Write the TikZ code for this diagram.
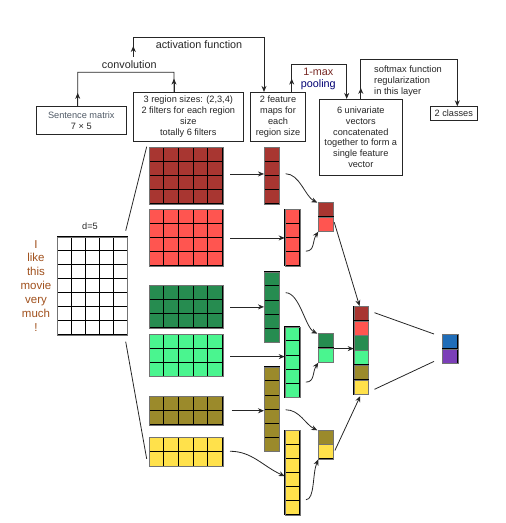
\documentclass[tikz,border=0pt]{standalone}
\usepackage{fontspec}
\setmainfont{Liberation Sans}
\usetikzlibrary{arrows.meta,calc}
\definecolor{dred}{HTML}{A83631}
\definecolor{lred}{HTML}{FF5550}
\definecolor{dgreen}{HTML}{268C50}
\definecolor{lgreen}{HTML}{4AF58F}
\definecolor{olive}{HTML}{9B8A2B}
\definecolor{yel}{HTML}{FFE14B}
\definecolor{oblue}{HTML}{1F6DB8}
\definecolor{opurple}{HTML}{7B3FB8}
\definecolor{wordc}{HTML}{A0501C}
\definecolor{smc}{HTML}{505A66}
\newcommand\cellblock[8]{%
  \foreach \ci in {1,...,#4}{\foreach \cj in {1,...,#5}{%
    \filldraw[fill=#8,draw=black,line width=0.7pt] ({#2+(\ci-1)*#6},{#3+(\cj-1)*#7}) rectangle ++(#6,#7);
  }}%
  \node[draw=black!55,line width=0.9pt,inner sep=0pt,minimum width={#4*#6pt},minimum height={#5*#7pt},anchor=north west] (#1) at (#2,#3) {};
}
\tikzset{
  box/.style={draw=black!85,line width=0.9pt,fill=white,inner sep=1pt,align=center,font=\fontsize{9.2}{10.9}\selectfont,text=black!85},
  lbl/.style={font=\fontsize{10.8}{12}\selectfont,text=black!85,inner sep=0pt},
  arr/.style={-{Stealth[length=6pt,width=5pt]},line width=0.8pt,draw=black!85},
  ln/.style={line width=0.8pt,draw=black!85},
}
\begin{document}
\begin{tikzpicture}[x=1pt,y=-1pt]
\useasboundingbox (0,0) rectangle (506,523);

% top boxes
\node[box,minimum width=89.3pt,minimum height=27.6pt] (sm) at (81.3,120.5) {\textcolor{smc}{Sentence matrix}\\7 × 5};
\node[box,minimum width=110pt,minimum height=48.7pt] (rs) at (188.3,116.7) {3 region sizes: (2,3,4)\\2 filters for each region\\size\\totally 6 filters};
\node[box,minimum width=54.6pt,minimum height=48.7pt] (fm) at (278,116.7) {2 feature\\maps for\\each\\region size};
\node[box,minimum width=83pt,minimum height=75.7pt] (uv) at (360.8,137.2) {6 univariate\\vectors\\concatenated\\together to form a\\single feature\\vector};
\node[box,minimum width=47.7pt,minimum height=13.3pt,inner sep=0pt] (cls) at (453.8,113.4) {2 classes};

% labels
\node[lbl] (lconv) at (129.3,64.3) {convolution};
\node[lbl] (lact) at (199,44.3) {activation function};
\node[lbl,text=dred!70!black] (lmax) at (318.3,72.3) {1-max};
\node[lbl,text=blue!45!black] (lpool) at (318.3,84.3) {pooling};
\node[inner sep=0pt,align=left,anchor=west,font=\fontsize{9.3}{10.8}\selectfont,text=black!85] (lsoft) at (374,80.8) {softmax function\\regularization\\in this layer};

% convolution bracket
\draw[ln] ($(sm.north)+(-3.6,0)$) -- ++(0,-34) -- ($(rs.north)+(-14.3,-19.6)$) -- ($(rs.north)+(-14.3,0)$);
\draw[arr] ($(sm.north)+(-3.6,0)$) -- ++(0,-13.4);
\draw[arr] ($(rs.north)+(-14.3,0)$) -- ++(0,-13.3);
% activation bracket
\coordinate (actS) at (133.3,56.7);
\draw[arr] (actS) -- ++(0,-10.7);
\draw[arr] (actS) -- ++(0,-19) -| ($(fm.north)+(-14,0)$);
% pooling bracket
\draw[arr] ($(fm.north)+(13.7,0)$) -- ++(0,-13.3);
\draw[arr] ($(fm.north)+(13.7,0)$) -- ++(0,-27.3) -| ($(uv.north)+(-14.1,0)$);
% softmax bracket
\draw[arr] (uv.north) -- ++(0,-11);
\draw[arr] (uv.north) -- ++(0,-40) -| ($(cls.north)+(3.5,0)$);

% sentence matrix
\cellblock{mat}{57.3}{236.7}{5}{7}{14}{14}{white}
\node[font=\fontsize{9.2}{11}\selectfont,text=black!85,inner sep=0pt] (dl) at (90,226) {d=5};
\node[font=\fontsize{11.5}{13.9}\selectfont,text=wordc,align=center,inner sep=0pt] (words) at (36,285.8) {I\\like\\this\\movie\\very\\much\\!};

% filters
\cellblock{f1}{149}{147.3}{5}{4}{14.7}{14.1}{dred}
\cellblock{f2}{149}{209.3}{5}{4}{14.7}{14.1}{lred}
\cellblock{f3}{149}{285.3}{5}{3}{14.7}{14.1}{dgreen}
\cellblock{f4}{149}{334}{5}{3}{14.7}{14.1}{lgreen}
\cellblock{f5}{149}{396}{5}{2}{14.7}{14.3}{olive}
\cellblock{f6}{149}{437.3}{5}{2}{14.7}{14.3}{yel}

\coordinate (m1) at (125.7,230.7);
\coordinate (m2) at (125.7,341.7);
\draw[ln] (m1) -- ($(f1.north west)+(-2.3,-0.6)$);
\draw[ln] (m2) -- ($(f6.south west)+(-2.3,-7.9)$);

% feature map columns
\cellblock{c1}{264}{147.3}{1}{4}{15}{14.1}{dred}
\cellblock{c2}{284.7}{209.3}{1}{4}{15}{14.1}{lred}
\cellblock{c3}{264}{271.7}{1}{5}{15}{14.1}{dgreen}
\cellblock{c4}{284.7}{326.7}{1}{5}{15}{14.1}{lgreen}
\cellblock{c5}{264}{366.7}{1}{6}{15}{14.1}{olive}
\cellblock{c6}{284.7}{430}{1}{6}{15}{14.1}{yel}

% filter -> feature map
\coordinate (s1) at ($(f1.east)+(6.6,-2)$);
\coordinate (s4) at ($(f4.east)+(6.6,1)$);
\draw[arr] (s1) -- (s1 -| c1.west);
\draw[arr] ($(f2.east)+(6.6,0)$) -- (f2.east -| c2.west);
\draw[arr] ($(f3.east)+(6.6,0)$) -- (f3.east -| c3.west);
\draw[arr] (s4) -- (s4 -| c4.west);
\draw[arr] ($(f5.east)+(8.3,0)$) -- (f5.east -| c5.west);
\draw[arr] ($(f6.east)+(6.6,-0.8)$) .. controls +(22,0) and +(-22,-10) .. ($(c6.west)+(0,3.4)$);

% pooled pairs
\cellblock{p1a}{318.3}{202.3}{1}{1}{14.7}{14.4}{dred}
\cellblock{p1b}{318.3}{216.7}{1}{1}{14.7}{14.4}{lred}
\cellblock{p2a}{318.3}{333.3}{1}{1}{14.7}{14.4}{dgreen}
\cellblock{p2b}{318.3}{347.7}{1}{1}{14.7}{14.4}{lgreen}
\cellblock{p3a}{318.3}{430}{1}{1}{14.7}{14.4}{olive}
\cellblock{p3b}{318.3}{444.4}{1}{1}{14.7}{14.4}{yel}

% feature map -> pooled
\draw[arr] ($(c1.east)+(5.7,-2.2)$) .. controls +(14,0) and +(-12,-6) .. ($(p1a.north west)+(-1,0.3)$);
\draw[arr] ($(c2.east)+(5.3,13.2)$) .. controls +(9,0) and +(-6,9) .. ($(p1b.south west)+(0,-0.3)$);
\draw[arr] ($(c3.east)+(5.7,-14.7)$) .. controls +(14,0) and +(-12,-6) .. ($(p2a.north west)+(-1,0.3)$);
\draw[arr] ($(c4.east)+(5.3,19.7)$) .. controls +(9,0) and +(-6,9) .. ($(p2b.south west)+(0,-0.3)$);
\draw[arr] ($(c5.east)+(5.7,0.3)$) .. controls +(14,0) and +(-12,-6) .. ($(p3a.north west)+(-1,0.3)$);
\draw[arr] ($(c6.east)+(5.3,27)$) .. controls +(9,0) and +(-6,14) .. ($(p3b.south west)+(0,-0.3)$);

% concatenated vector
\cellblock{cc1}{353.7}{306}{1}{1}{14.7}{14.7}{dred}
\cellblock{cc2}{353.7}{320.7}{1}{1}{14.7}{14.7}{lred}
\cellblock{cc3}{353.7}{335.4}{1}{1}{14.7}{14.7}{dgreen}
\cellblock{cc4}{353.7}{350.1}{1}{1}{14.7}{14.7}{lgreen}
\cellblock{cc5}{353.7}{364.8}{1}{1}{14.7}{14.7}{olive}
\cellblock{cc6}{353.7}{379.5}{1}{1}{14.7}{14.7}{yel}
\node[inner sep=0pt,minimum width=14.7pt,minimum height=88.2pt,anchor=north west] (cc) at (353.7,306) {};

% pooled -> concatenated
\draw[arr] ($(p1b.east)+(0.3,-2.2)$) -- ($(cc.north)+(-1.7,0)$);
\draw[arr] (p2a.south east) -- (p2a.south east -| cc.west);
\draw[arr] ($(p3b.east)+(1,-1.6)$) -- ($(cc.south)+(-1,1.5)$);

% output
\cellblock{o1}{442.3}{334}{1}{1}{15.4}{14.65}{oblue}
\cellblock{o2}{442.3}{348.65}{1}{1}{15.4}{14.65}{opurple}
\node[inner sep=0pt,minimum width=15.4pt,minimum height=29.3pt,anchor=north west] (out) at (442.3,334) {};
\coordinate (q1) at ($(out.north west)+(-8.3,0)$);
\coordinate (q2) at ($(out.south west)+(-8.3,-2.3)$);
\draw[ln] ($(cc.north east)+(5.7,6.7)$) -- (q1);
\draw[ln] ($(cc.south east)+(5.7,-5.3)$) -- (q2);
\end{tikzpicture}
\end{document}
